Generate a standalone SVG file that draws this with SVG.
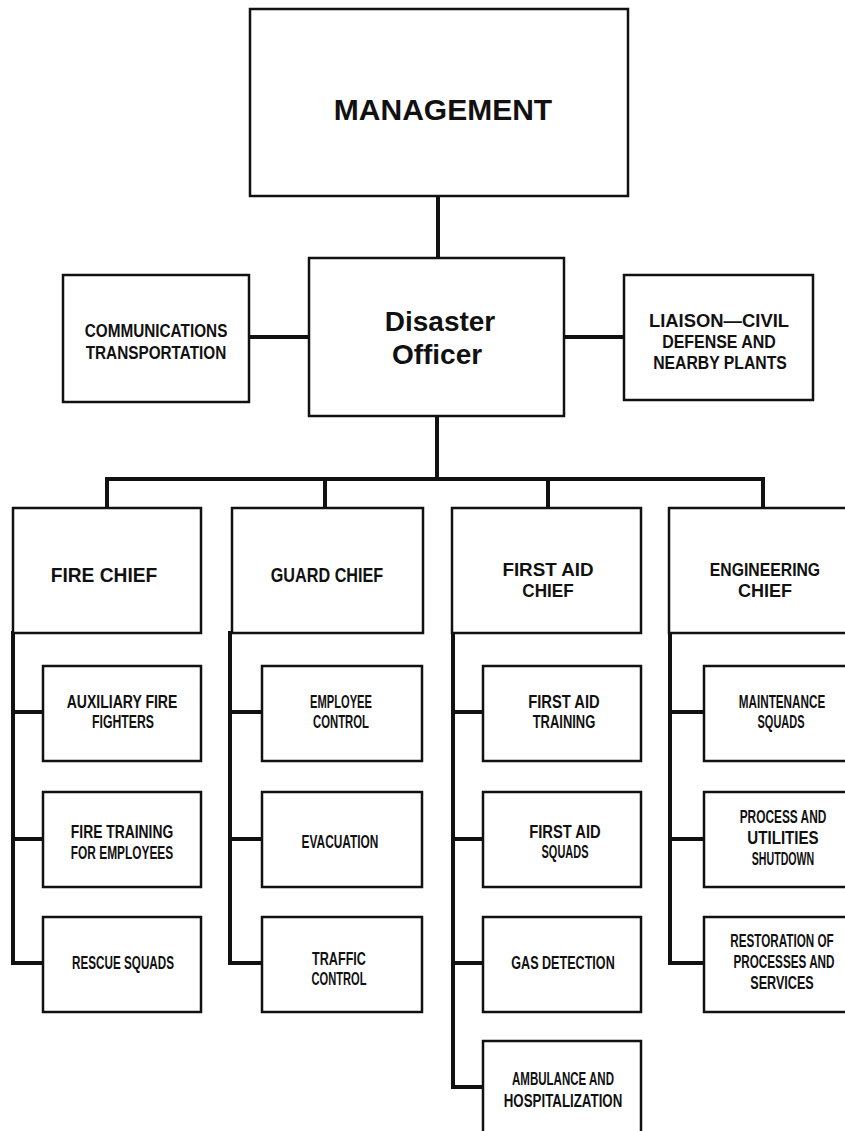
<svg xmlns="http://www.w3.org/2000/svg" width="845" height="1131" viewBox="0 0 845 1131">
<style>
rect{fill:#fff;stroke:#111;stroke-width:2.5}
.c{fill:none;stroke:#111;stroke-width:4;stroke-linecap:square;stroke-linejoin:miter}
text{fill:#111;text-anchor:middle}
.big{font-family:"Liberation Sans",Arial,sans-serif;font-weight:bold}
.n{font-family:"Liberation Sans",Arial,sans-serif;font-weight:bold}
.s{font-size:18px}
.m{font-size:19px}
.h{font-size:20px}
.h2{font-size:19px}
</style>
<rect x="0" y="0" width="845" height="1131" style="fill:#fff;stroke:none"/>
<g id="connectors">
<path class="c" d="M438 196V258"/>
<path class="c" d="M249 337H309"/>
<path class="c" d="M564 337H624"/>
<path class="c" d="M437 416V479M107 479H763M107 479V508M325 479V508M548 479V508M763 479V508"/>
<path class="c" d="M13 633V963H43M13 712H43M13 839H43"/>
<path class="c" d="M230 633V963H262M230 712H262M230 839H262"/>
<path class="c" d="M453 633V1087H483M453 712H483M453 839H483M453 963H483"/>
<path class="c" d="M670 633V963H704M670 712H704M670 839H704"/>
</g>
<g id="management"><rect x="250" y="9" width="378" height="187"/><text class="big" x="443" y="120" font-size="30">MANAGEMENT</text></g>
<g id="disaster-officer"><rect x="309" y="258" width="255" height="158"/><text class="big" x="440" y="331" font-size="28">Disaster</text><text class="big" x="437" y="364" font-size="28">Officer</text></g>
<g id="communications"><rect x="63" y="275" width="186" height="127"/>
<text class="n m" transform="translate(156 337) scale(0.807 1)">COMMUNICATIONS</text>
<text class="n m" transform="translate(156 359) scale(0.807 1)">TRANSPORTATION</text></g>
<g id="liaison"><rect x="624" y="275" width="189" height="125"/>
<text class="n m" transform="translate(719 327) scale(0.97 1)">LIAISON—CIVIL</text>
<text class="n m" transform="translate(719 348) scale(0.84 1)">DEFENSE AND</text>
<text class="n m" transform="translate(720 369) scale(0.83 1)">NEARBY PLANTS</text></g>
<g id="fire-chief"><rect x="13" y="508" width="188" height="125"/>
<text class="n h" transform="translate(104 582) scale(0.96 1)">FIRE CHIEF</text></g>
<g id="guard-chief"><rect x="232" y="508" width="191" height="125"/>
<text class="n h" transform="translate(327 582) scale(0.81 1)">GUARD CHIEF</text></g>
<g id="first-aid-chief"><rect x="452" y="508" width="189" height="125"/>
<text class="n h2" transform="translate(548 576) scale(0.99 1)">FIRST AID</text>
<text class="n h2" transform="translate(548 597) scale(0.9 1)">CHIEF</text></g>
<g id="engineering-chief"><rect x="669" y="508" width="192" height="125"/>
<text class="n h2" transform="translate(765 576) scale(0.83 1)">ENGINEERING</text>
<text class="n h2" transform="translate(765 597) scale(0.95 1)">CHIEF</text></g>
<g id="auxiliary-fire-fighters"><rect x="43" y="666" width="158" height="95"/>
<text class="n s" transform="translate(122 708) scale(0.78 1)">AUXILIARY FIRE</text>
<text class="n s" transform="translate(123 728) scale(0.68 1)">FIGHTERS</text></g>
<g id="fire-training"><rect x="43" y="792" width="158" height="95"/>
<text class="n s" transform="translate(122 838) scale(0.77 1)">FIRE TRAINING</text>
<text class="n s" transform="translate(122 859) scale(0.66 1)">FOR EMPLOYEES</text></g>
<g id="rescue-squads"><rect x="43" y="917" width="158" height="95"/>
<text class="n s" transform="translate(123 969) scale(0.65 1)">RESCUE SQUADS</text></g>
<g id="employee-control"><rect x="262" y="666" width="160" height="95"/>
<text class="n s" transform="translate(341 708) scale(0.62 1)">EMPLOYEE</text>
<text class="n s" transform="translate(341 728) scale(0.63 1)">CONTROL</text></g>
<g id="evacuation"><rect x="262" y="792" width="160" height="95"/>
<text class="n s" transform="translate(340 848) scale(0.66 1)">EVACUATION</text></g>
<g id="traffic-control"><rect x="262" y="917" width="160" height="95"/>
<text class="n s" transform="translate(339 965) scale(0.7 1)">TRAFFIC</text>
<text class="n s" transform="translate(339 985) scale(0.62 1)">CONTROL</text></g>
<g id="first-aid-training"><rect x="483" y="666" width="158" height="95"/>
<text class="n s" transform="translate(564 708) scale(0.82 1)">FIRST AID</text>
<text class="n s" transform="translate(564 728) scale(0.72 1)">TRAINING</text></g>
<g id="first-aid-squads"><rect x="483" y="792" width="158" height="95"/>
<text class="n s" transform="translate(565 838) scale(0.82 1)">FIRST AID</text>
<text class="n s" transform="translate(565 858) scale(0.61 1)">SQUADS</text></g>
<g id="gas-detection"><rect x="483" y="917" width="158" height="95"/>
<text class="n s" transform="translate(563 969) scale(0.7 1)">GAS DETECTION</text></g>
<g id="ambulance"><rect x="483" y="1041" width="158" height="100"/>
<text class="n s" transform="translate(563 1085) scale(0.64 1)">AMBULANCE AND</text>
<text class="n s" transform="translate(563 1107) scale(0.74 1)">HOSPITALIZATION</text></g>
<g id="maintenance-squads"><rect x="704" y="666" width="156" height="95"/>
<text class="n s" transform="translate(782 708) scale(0.65 1)">MAINTENANCE</text>
<text class="n s" transform="translate(781 728) scale(0.61 1)">SQUADS</text></g>
<g id="process-utilities"><rect x="704" y="792" width="156" height="95"/>
<text class="n s" transform="translate(783 823) scale(0.66 1)">PROCESS AND</text>
<text class="n s" transform="translate(783 844) scale(0.84 1)">UTILITIES</text>
<text class="n s" transform="translate(783 865) scale(0.59 1)">SHUTDOWN</text></g>
<g id="restoration"><rect x="704" y="917" width="156" height="95"/>
<text class="n s" transform="translate(782 947) scale(0.65 1)">RESTORATION OF</text>
<text class="n s" transform="translate(784 968) scale(0.65 1)">PROCESSES AND</text>
<text class="n s" transform="translate(782 989) scale(0.7 1)">SERVICES</text></g>
</svg>
